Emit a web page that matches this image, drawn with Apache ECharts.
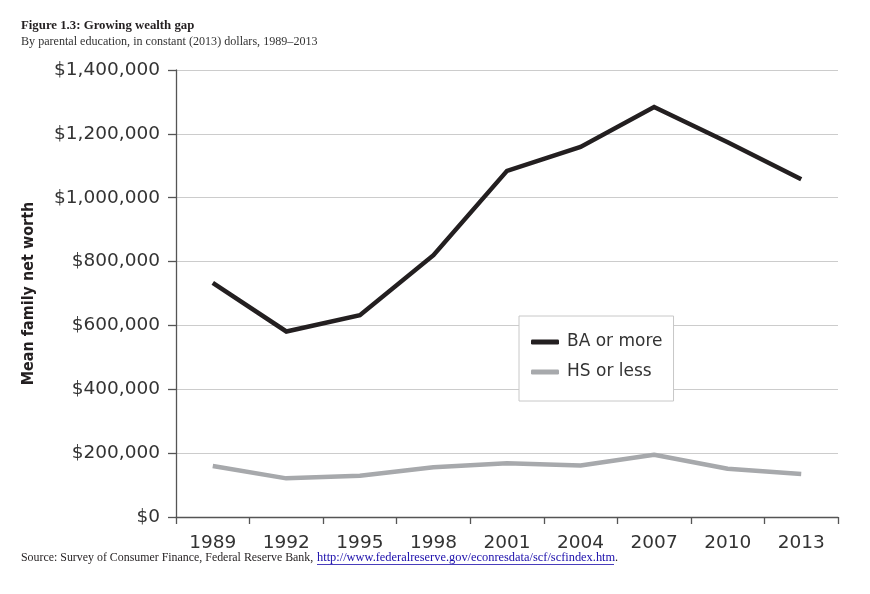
<!DOCTYPE html>
<html>
<head>
<meta charset="utf-8">
<script src="https://cdn.jsdelivr.net/npm/echarts@6/dist/echarts.min.js"></script>
<style>
html,body{margin:0;padding:0;background:#fff;}
#c{width:870px;height:594px;}
</style>
</head>
<body>
<div id="c"></div>
<script>
var years = ['1989','1992','1995','1998','2001','2004','2007','2010','2013'];
var baOrMore = [733000, 581000, 632000, 820000, 1084000, 1159000, 1284000, 1174000, 1058000];
var hsOrLess = [160000, 121000, 129000, 156000, 168000, 161000, 195000, 151000, 135000];
var yTicks = [0, 200000, 400000, 600000, 800000, 1000000, 1200000, 1400000];

var chart = echarts.init(document.getElementById('c'));
function money(v){ return '$' + String(v).replace(/\B(?=(\d{3})+(?!\d))/g, ','); }

chart.setOption({
  animation: false,
  backgroundColor: '#fff',
  grid: { left: 176, right: 32, top: 70, bottom: 77, containLabel: false },
  xAxis: {
    type: 'category',
    data: years,
    boundaryGap: true,
    axisLine: { show: true, lineStyle: { color: '#555', width: 1.3 } },
    axisTick: { show: true, length: 7, alignWithLabel: false, lineStyle: { color: '#555', width: 1.3 } },
    axisLabel: { margin: 17, color: '#333', fontFamily: 'DejaVu Sans', fontSize: 18.5 },
    splitLine: { show: false }
  },
  yAxis: {
    type: 'value',
    min: yTicks[0],
    max: yTicks[yTicks.length - 1],
    interval: yTicks[1] - yTicks[0],
    name: 'Mean family net worth',
    nameLocation: 'middle',
    nameGap: 139,
    nameTextStyle: { fontFamily: "'Liberation Sans Narrow', 'DejaVu Sans Condensed', sans-serif", fontWeight: 'bold', fontSize: 16, color: '#231f20' },
    axisLine: { show: true, lineStyle: { color: '#555', width: 1.3 } },
    axisTick: { show: true, length: 8, inside: false, lineStyle: { color: '#555', width: 1.3 } },
    axisLabel: { margin: 16, color: '#333', fontFamily: 'DejaVu Sans', fontSize: 18.5, formatter: money, padding: [4,0,0,0] },
    splitLine: { show: true, lineStyle: { color: '#cccccc', width: 1 } }
  },
  legend: {
    orient: 'vertical',
    left: 519, top: 316,
    padding: [16, 11, 19, 12],
    itemGap: 10,
    itemWidth: 28, itemHeight: 5,
    icon: 'roundRect',
    backgroundColor: '#fff',
    borderColor: '#c8c8c8', borderWidth: 1,
    textStyle: { fontFamily: 'DejaVu Sans', fontSize: 17, color: '#333', lineHeight: 20, padding: [0,0,0,3] },
    data: ['BA or more', 'HS or less']
  },
  series: [
    { name: 'BA or more', type: 'line', data: baOrMore, showSymbol: false, symbol: 'none',
      lineStyle: { color: '#231f20', width: 4.5, join: 'miter' }, itemStyle: { color: '#231f20' } },
    { name: 'HS or less', type: 'line', data: hsOrLess, showSymbol: false, symbol: 'none',
      lineStyle: { color: '#a7a9ac', width: 4.5 }, itemStyle: { color: '#a7a9ac' } }
  ],
  graphic: [
    { type: 'text', left: 21, top: 19, style: { text: 'Figure 1.3: Growing wealth gap', font: "bold 12.8px 'Liberation Serif', serif", fill: '#231f20' } },
    { type: 'text', left: 21, top: 36, style: { text: 'By parental education, in constant (2013) dollars, 1989\u20132013', font: "12.1px 'Liberation Serif', serif", fill: '#333' } },
    { type: 'text', left: 21, top: 552, style: { text: 'Source: Survey of Consumer Finance, Federal Reserve Bank,', font: "11.9px 'Liberation Serif', serif", fill: '#231f20' } },
    { type: 'text', left: 317, top: 552, style: { text: 'http://www.federalreserve.gov/econresdata/scf/scfindex.htm', font: "12.4px 'Liberation Serif', serif", fill: '#1a0dab' } },
    { type: 'text', left: 615, top: 552, style: { text: '.', font: "12.2px 'Liberation Serif', serif", fill: '#231f20' } },
    { type: 'line', shape: { x1: 317, y1: 564.5, x2: 614, y2: 564.5 }, style: { stroke: '#1a0dab', lineWidth: 0.8 } }
  ]
});
</script>
</body>
</html>
